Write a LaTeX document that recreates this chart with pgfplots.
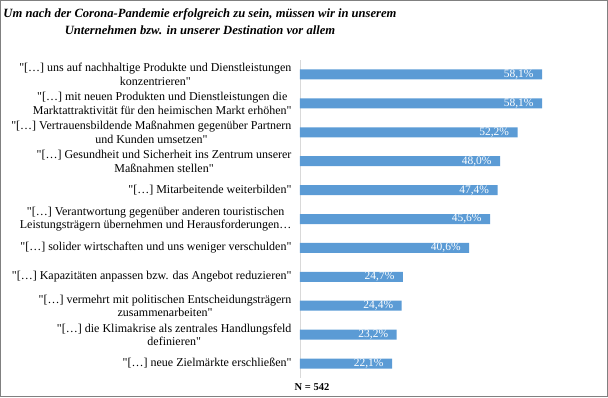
\documentclass[border=0pt]{standalone}
\usepackage{pgfplots}
\pgfplotsset{compat=1.18}
\usepackage{fontspec}
\setmainfont{Liberation Serif}[Ligatures=TeXOff]
\definecolor{barblue}{RGB}{91,155,213}
\definecolor{frame}{RGB}{128,128,128}
\definecolor{axisgray}{RGB}{217,217,217}
\begin{document}
\begin{tikzpicture}
\useasboundingbox (0,0) rectangle (608pt,397pt);
\draw[frame, line width=1pt] (0.5pt,0.5pt) rectangle (607.5pt,396.5pt);
\node[align=center, font=\fontsize{12.6}{17}\selectfont\bfseries\itshape] at (200pt,375.5pt)
  {Um nach der Corona-Pandemie erfolgreich zu sein, müssen wir in unserem\\Unternehmen bzw. in unserer Destination vor allem};
\node[font=\fontsize{10.5}{12}\selectfont\bfseries] at (312pt,10pt) {N = 542};
\begin{axis}[
  at={(300pt,19pt)}, anchor=south west,
  scale only axis, width=291.7pt, height=318pt,
  xbar, bar width=10pt,
  xmin=0, xmax=70, ymin=-0.5, ymax=10.5, y dir=reverse,
  axis x line=none, axis y line*=left,
  y axis line style={draw=axisgray, line width=0.8pt},
  ytick={0,...,10}, major tick length=0pt,
  yticklabel style={align=center, font=\fontsize{12}{13.5}\selectfont, xshift=-5pt},
  yticklabels={
    {"[…] uns auf nachhaltige Produkte und Dienstleistungen\\konzentrieren"},
    {"[…] mit neuen Produkten und Dienstleistungen die\\Marktattraktivität für den heimischen Markt erhöhen"},
    {"[…] Vertrauensbildende Maßnahmen gegenüber Partnern\\und Kunden umsetzen"},
    {"[…] Gesundheit und Sicherheit ins Zentrum unserer\\Maßnahmen stellen"},
    {"[…] Mitarbeitende weiterbilden"},
    {"[…] Verantwortung gegenüber anderen touristischen\\Leistungsträgern übernehmen und Herausforderungen…},
    {"[…] solider wirtschaften und uns weniger verschulden"},
    {"[…] Kapazitäten anpassen bzw. das Angebot reduzieren"},
    {"[…] vermehrt mit politischen Entscheidungsträgern\\zusammenarbeiten"},
    {"[…] die Klimakrise als zentrales Handlungsfeld\\definieren"},
    {"[…] neue Zielmärkte erschließen"}
  },
  nodes near coords={\pgfmathprintnumber[use comma,fixed,fixed zerofill,precision=1,assume math mode=true]{\pgfplotspointmeta}\%},
  nodes near coords style={anchor=east, text=white, font=\fontsize{11.5}{13.5}\selectfont, xshift=-5pt},
  clip=false,
]
\addplot[fill=barblue, draw=none] coordinates {
  (58.1,0) (58.1,1) (52.2,2) (48.0,3) (47.4,4) (45.6,5) (40.6,6) (24.7,7) (24.4,8) (23.2,9) (22.1,10)
};
\end{axis}
\end{tikzpicture}
\end{document}
